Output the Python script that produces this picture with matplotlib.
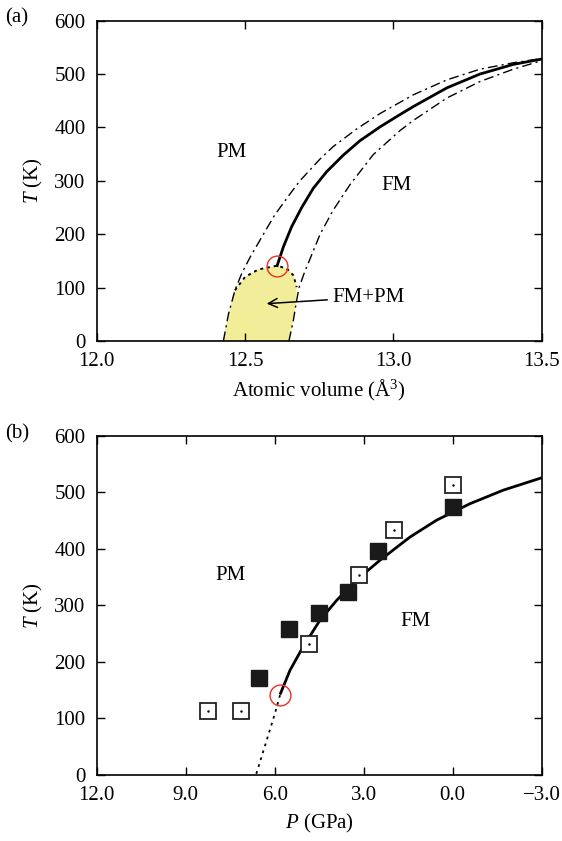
import matplotlib
matplotlib.use("Agg")
import matplotlib.pyplot as plt

plt.rcParams['font.family'] = ['Liberation Serif', 'DejaVu Serif']
plt.rcParams['mathtext.fontset'] = 'custom'
plt.rcParams['mathtext.rm'] = 'Liberation Serif'
plt.rcParams['mathtext.it'] = 'Liberation Serif:italic'

# ---------- panel (a) data ----------
solid_V = [12.607, 12.629, 12.657, 12.691, 12.730, 12.775, 12.831, 12.887, 12.955,
           13.022, 13.067, 13.18, 13.292, 13.404, 13.5]
solid_T = [139, 176, 214, 250, 286, 317, 348, 375, 401,
           424, 439, 474, 500, 518, 528]

upper_V = [12.427, 12.444, 12.466, 12.49, 12.52, 12.561, 12.60, 12.651, 12.685, 12.753,
           12.797, 12.876, 12.955, 13.067, 13.18, 13.292, 13.404, 13.5]
upper_T = [0, 50, 95, 128, 160, 199, 236, 275, 300, 341,
           364, 397, 426, 461, 489, 509, 521, 529]

lower_V = [12.648, 12.663, 12.672, 12.682, 12.70, 12.717, 12.753, 12.797, 12.854,
           12.932, 13.022, 13.067, 13.18, 13.292, 13.404, 13.5]
lower_T = [0, 39, 70, 100, 128, 151, 200, 245, 293,
           349, 394, 413, 455, 486, 509, 525]

bubble_V = [12.427, 12.444, 12.466, 12.50, 12.545, 12.607, 12.64, 12.663, 12.674, 12.672, 12.663, 12.648]
bubble_T = [0, 52, 95, 120, 134, 141, 136, 123, 101, 70, 39, 0]

crit_a = (12.607, 140)

# ---------- panel (b) data ----------
filled_P = [6.52, 5.51, 4.50, 3.52, 2.51, 0.0]
filled_T = [171, 259, 287, 323, 396, 474]
open_P = [8.24, 7.14, 4.83, 3.16, 1.99, 0.0]
open_T = [113, 113, 231, 353, 433, 514]

curve_P = [5.82, 5.485, 5.04, 4.47, 3.91, 3.24, 2.45, 1.44, 0.54, -0.58, -1.70, -3.0]
curve_T = [142, 185, 227, 274, 309, 345, 380, 421, 451, 480, 504, 526]
dot_P = [5.82, 5.99, 6.27, 6.63]
dot_T = [141, 109, 61, 0]
crit_b = (5.82, 141)

fig = plt.figure(figsize=(5.62, 8.41), dpi=100)
ax1 = fig.add_axes([0.172, 0.5945, 0.792, 0.381])
ax2 = fig.add_axes([0.172, 0.0788, 0.792, 0.4028])

FS = 15

def style(ax):
    for s in ax.spines.values():
        s.set_linewidth(1.2)
    ax.tick_params(direction='in', length=6, width=1.0, top=True, right=True,
                   labelsize=FS, pad=8)

dashdot = (0, (7, 3, 1.5, 3))

# ---- (a) ----
ax1.fill(bubble_V, bubble_T, color='#f2ed98', zorder=1, lw=0)
ax1.plot(bubble_V[2:9], bubble_T[2:9], color='black', lw=1.4, ls=(0, (1.5, 2.0)), zorder=2)
ax1.plot(upper_V, upper_T, color='black', lw=1.0, ls=dashdot, zorder=3)
ax1.plot(lower_V, lower_T, color='black', lw=1.0, ls=dashdot, zorder=3)
ax1.plot(solid_V, solid_T, color='black', lw=2.0, zorder=4, solid_capstyle='butt')
ax1.plot([crit_a[0]], [crit_a[1]], 'o', ms=15, mfc='none', mec='#e8302a', mew=1.0, zorder=5)
ax1.annotate('FM+PM', xy=(12.573, 70), xytext=(12.796, 82), fontsize=FS,
             va='center', ha='left',
             arrowprops=dict(arrowstyle='->', lw=1.1, color='black', mutation_scale=16,
                             shrinkA=2, shrinkB=0))
ax1.text(12.453, 353, 'PM', fontsize=FS, ha='center', va='center')
ax1.text(13.012, 292, 'FM', fontsize=FS, ha='center', va='center')
ax1.set_xlim(12.0, 13.5)
ax1.set_ylim(0, 600)
ax1.set_xticks([12.0, 12.5, 13.0, 13.5])
ax1.set_xticklabels(['12.0', '12.5', '13.0', '13.5'])
ax1.set_yticks(range(0, 601, 100))
ax1.set_xlabel('Atomic volume (Å$^3$)', fontsize=FS, labelpad=5)
ax1.set_ylabel('$T$ (K)', fontsize=FS, labelpad=7)
style(ax1)

# ---- (b) ----
ax2.plot(dot_P, dot_T, color='black', lw=1.3, ls=(0, (1.5, 2.5)), zorder=2)
ax2.plot(curve_P, curve_T, color='black', lw=2.0, zorder=3, solid_capstyle='butt')
ax2.plot(filled_P, filled_T, 's', ms=12, color='#1a1a1a', mec='#1a1a1a', zorder=4, ls='none')
ax2.plot(open_P, open_T, 's', ms=11, mfc='white', mec='#222222', mew=1.3, zorder=4, ls='none')
ax2.plot(open_P, open_T, '.', ms=1.5, color='black', zorder=5, ls='none')
ax2.plot([crit_b[0]], [crit_b[1]], 'o', ms=15, mfc='none', mec='#e8302a', mew=1.0, zorder=5)
ax2.text(7.48, 353, 'PM', fontsize=FS, ha='center', va='center')
ax2.text(1.24, 272, 'FM', fontsize=FS, ha='center', va='center')
ax2.set_xlim(12.0, -3.0)
ax2.set_ylim(0, 600)
ax2.set_xticks([12, 9, 6, 3, 0, -3])
ax2.set_xticklabels(['12.0', '9.0', '6.0', '3.0', '0.0', '\u22123.0'])
ax2.set_yticks(range(0, 601, 100))
ax2.set_xlabel('$P$ (GPa)', fontsize=FS, labelpad=5)
ax2.set_ylabel('$T$ (K)', fontsize=FS, labelpad=7)
style(ax2)

fig.text(0.030, 0.979, '(a)', fontsize=FS, ha='center', va='center')
fig.text(0.030, 0.484, '(b)', fontsize=FS, ha='center', va='center')

fig.savefig('out.png', dpi=100)
